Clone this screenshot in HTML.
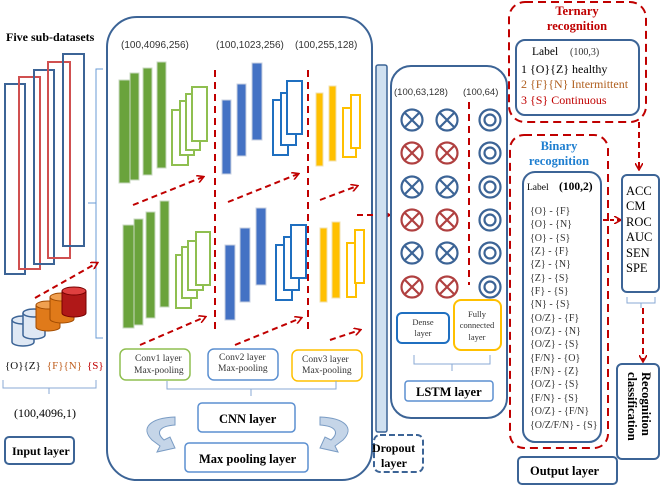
<!DOCTYPE html>
<html><head><meta charset="utf-8"><style>
body{margin:0;background:#fff}
svg{display:block;font-family:"Liberation Serif",serif}
</style></head><body>
<svg width="660" height="487" viewBox="0 0 660 487" xmlns="http://www.w3.org/2000/svg">
<defs>
<marker id="ar" markerWidth="8" markerHeight="8" refX="6" refY="4" orient="auto" markerUnits="userSpaceOnUse"><path d="M0,0 L7,4 L0,8" fill="none" stroke="#c00000" stroke-width="1.6"/></marker>
<g id="gbar"><rect x="0" y="0" width="9" height="100" fill="#6aa33c" stroke="#d0d0d0" stroke-width="1.2"/></g>
</defs>
<g fill="none" stroke-width="2">
<rect x="5" y="84" width="20" height="190" stroke="#3c6496"/>
<rect x="19" y="77" width="21" height="192" stroke="#d05050"/>
<rect x="34" y="70" width="20" height="194" stroke="#3c6496"/>
<rect x="48" y="62" width="22" height="196" stroke="#d05050"/>
<rect x="63" y="54" width="21" height="192" stroke="#3c6496"/>
</g>
<text x="6" y="41" font-size="12" font-weight="bold">Five sub-datasets</text>
<path d="M103,69 H96 V338 H103 M96,203 H88" fill="none" stroke="#6a9bd4" stroke-width="1"/>
<!-- cylinders -->
<g stroke="#3c6496" stroke-width="1.5">
<path d="M12,320 v22 a11,4 0 0 0 22,0 v-22" fill="#dfe8f4"/><ellipse cx="23" cy="320" rx="11" ry="4" fill="#dfe8f4"/>
<path d="M23,313 v22 a11,4 0 0 0 22,0 v-22" fill="#dfe8f4"/><ellipse cx="34" cy="313" rx="11" ry="4" fill="#dfe8f4"/>
</g>
<g stroke="#a04a00" stroke-width="1">
<path d="M36,305 v22 a12,4 0 0 0 24,0 v-22" fill="#e07a1a"/><ellipse cx="48" cy="305" rx="12" ry="4" fill="#f0a050"/>
<path d="M50,297 v22 a12,4 0 0 0 24,0 v-22" fill="#e07a1a"/><ellipse cx="62" cy="297" rx="12" ry="4" fill="#f0a050"/>
</g>
<path d="M62,291 v22 a12,4 0 0 0 24,0 v-22" fill="#b01818" stroke="#700"/><ellipse cx="74" cy="291" rx="12" ry="4" fill="#e04040" stroke="#700"/>
<text x="5" y="369" font-size="11"><tspan fill="#111">{O}{Z}</tspan><tspan fill="#c06020" dx="6">{F}{N}</tspan><tspan fill="#c00000" dx="5">{S}</tspan></text>
<path d="M3,380 v8 H96 v-8 M49,388 v6" fill="none" stroke="#8aaad4" stroke-width="1"/>
<text x="14" y="417" font-size="12">(100,4096,1)</text>
<rect x="5" y="437" width="69" height="27" rx="4" fill="#fff" stroke="#3c6496" stroke-width="2"/>
<text x="12" y="455" font-size="12" font-weight="bold">Input layer</text>
<line x1="35" y1="298" x2="97" y2="263" stroke="#c00000" stroke-width="2" stroke-dasharray="6,4" marker-end="url(#ar)"/>

<!-- CNN box -->
<rect x="107" y="17" width="265" height="463" rx="30" fill="none" stroke="#3c6496" stroke-width="2"/>
<g font-family="Liberation Sans,sans-serif" font-size="10" fill="#333">
<text x="121" y="48">(100,4096,256)</text>
<text x="216" y="48">(100,1023,256)</text>
<text x="295" y="48">(100,255,128)</text>
</g>
<!-- top set -->
<g fill="#6aa33c" stroke="#c8d8c0" stroke-width="1">
<rect x="119" y="80" width="11" height="103"/><rect x="130" y="73" width="9" height="107"/><rect x="143" y="68" width="9" height="107"/><rect x="157" y="62" width="9" height="106"/>
<rect x="123" y="225" width="11" height="103"/><rect x="134" y="219" width="9" height="106"/><rect x="146" y="212" width="9" height="106"/><rect x="160" y="201" width="9" height="106"/>
</g>
<g fill="#fff" stroke="#8fbf50" stroke-width="2">
<rect x="172" y="110" width="16" height="55"/><rect x="180" y="101" width="14" height="54"/><rect x="186" y="94" width="14" height="56"/><rect x="192" y="87" width="15" height="54"/>
<rect x="176" y="255" width="15" height="53"/><rect x="182" y="247" width="15" height="51"/><rect x="188" y="241" width="15" height="49"/><rect x="196" y="232" width="14" height="53"/>
</g>
<g fill="#4472c4" stroke="#c8d0e0" stroke-width="1">
<rect x="222" y="100" width="9" height="74"/><rect x="237" y="84" width="9" height="72"/><rect x="252" y="63" width="10" height="77"/>
<rect x="225" y="245" width="10" height="75"/><rect x="240" y="228" width="10" height="74"/><rect x="256" y="208" width="10" height="77"/>
</g>
<g fill="#fff" stroke="#1f6fc0" stroke-width="2">
<rect x="273" y="100" width="15" height="55"/><rect x="281" y="93" width="15" height="52"/><rect x="287" y="81" width="15" height="53"/>
<rect x="276" y="245" width="16" height="55"/><rect x="284" y="237" width="15" height="53"/><rect x="291" y="225" width="15" height="53"/>
</g>
<g fill="#ffc000" stroke="#f0e0b0" stroke-width="1">
<rect x="316" y="93" width="7" height="73"/><rect x="329" y="86" width="7" height="75"/>
<rect x="320" y="228" width="7" height="74"/><rect x="332" y="222" width="8" height="76"/>
</g>
<g fill="#fff" stroke="#ffc000" stroke-width="2">
<rect x="343" y="108" width="13" height="49"/><rect x="351" y="95" width="9" height="53"/>
<rect x="347" y="243" width="9" height="54"/><rect x="355" y="230" width="9" height="53"/>
</g>
<g stroke="#c00000" stroke-width="2" stroke-dasharray="7,5" fill="none">
<line x1="215" y1="70" x2="215" y2="330"/><line x1="308" y1="70" x2="308" y2="330"/>
<line x1="469" y1="102" x2="469" y2="285"/>
</g>
<g stroke="#c00000" stroke-width="2" stroke-dasharray="6,4" marker-end="url(#ar)">
<line x1="133" y1="205" x2="203" y2="177"/><line x1="228" y1="202" x2="298" y2="174"/><line x1="320" y1="200" x2="357" y2="186"/>
<line x1="140" y1="345" x2="205" y2="317"/><line x1="235" y1="345" x2="301" y2="318"/><line x1="330" y1="340" x2="360" y2="330"/>
<line x1="357" y1="215" x2="389" y2="215"/>
</g>
<g fill="#fff" stroke-width="1.5" font-size="9.5">
<rect x="120" y="349" width="70" height="31" rx="6" stroke="#8fbf50"/>
<rect x="208" y="349" width="70" height="31" rx="6" stroke="#5b8fd0"/>
<rect x="292" y="350" width="70" height="31" rx="6" stroke="#ffc000"/>
</g>
<g font-size="9.5" fill="#333">
<text x="135" y="361">Conv1 layer</text><text x="134" y="373">Max-pooling</text>
<text x="219" y="360">Conv2 layer</text><text x="218" y="371">Max-pooling</text>
<text x="302" y="362">Conv3 layer</text><text x="302" y="373">Max-pooling</text>
</g>
<path d="M167,381 v8 H336 v-8 M251,389 v7" fill="none" stroke="#8aaad4" stroke-width="1"/>
<rect x="198" y="403" width="97" height="29" rx="4" fill="#fff" stroke="#5b8fd0" stroke-width="1.5"/>
<text x="219" y="423" font-size="12.5" font-weight="bold">CNN layer</text>
<rect x="185" y="443" width="123" height="29" rx="4" fill="#fff" stroke="#5b8fd0" stroke-width="1.5"/>
<text x="199" y="463" font-size="12.5" font-weight="bold">Max pooling layer</text>
<path d="M175,417 C150,418 140,428 152,440 L160,446 L157,452 L175,448 L170,437 L164,440 C155,432 160,426 175,425 Z" fill="#c5d5e8" stroke="#7a9cc4"/>
<path d="M320,417 C345,418 355,428 343,440 L335,446 L338,452 L320,448 L325,437 L331,440 C340,432 335,426 320,425 Z" fill="#c5d5e8" stroke="#7a9cc4"/>

<!-- dropout -->
<rect x="376" y="65" width="11" height="367" rx="2" fill="#cfe0f0" stroke="#3c6496" stroke-width="1.5"/>
<rect x="374" y="435" width="49" height="37" rx="6" fill="#fff" stroke="#3c6496" stroke-width="2" stroke-dasharray="6,3"/>
<text x="372" y="452" font-size="12" font-weight="bold">Dropout</text>
<text x="381" y="467" font-size="12" font-weight="bold">layer</text>

<!-- LSTM -->
<rect x="391" y="66" width="116" height="352" rx="20" fill="none" stroke="#3c6496" stroke-width="2"/>
<g font-family="Liberation Sans,sans-serif" font-size="9.5" fill="#333">
<text x="394" y="95">(100,63,128)</text><text x="463" y="95">(100,64)</text>
</g>
<g stroke-width="2.2" fill="none">
<g stroke="#3c6496"><circle cx="412" cy="120" r="10.5"/><circle cx="447" cy="120" r="10.5"/><path d="M405,113 l14,14 M419,113 l-14,14 M440,113 l14,14 M454,113 l-14,14"/></g>
<g stroke="#b04040"><circle cx="412" cy="153" r="10.5"/><circle cx="447" cy="153" r="10.5"/><path d="M405,146 l14,14 M419,146 l-14,14 M440,146 l14,14 M454,146 l-14,14"/></g>
<g stroke="#3c6496"><circle cx="412" cy="187" r="10.5"/><circle cx="447" cy="187" r="10.5"/><path d="M405,180 l14,14 M419,180 l-14,14 M440,180 l14,14 M454,180 l-14,14"/></g>
<g stroke="#b04040"><circle cx="412" cy="220" r="10.5"/><circle cx="447" cy="220" r="10.5"/><path d="M405,213 l14,14 M419,213 l-14,14 M440,213 l14,14 M454,213 l-14,14"/></g>
<g stroke="#3c6496"><circle cx="412" cy="253" r="10.5"/><circle cx="447" cy="253" r="10.5"/><path d="M405,246 l14,14 M419,246 l-14,14 M440,246 l14,14 M454,246 l-14,14"/></g>
<g stroke="#b04040"><circle cx="412" cy="287" r="10.5"/><circle cx="447" cy="287" r="10.5"/><path d="M405,280 l14,14 M419,280 l-14,14 M440,280 l14,14 M454,280 l-14,14"/></g>
<g stroke="#3c6496">
<circle cx="490" cy="120" r="10.5"/><circle cx="490" cy="120" r="5.5"/>
<circle cx="490" cy="153" r="10.5"/><circle cx="490" cy="153" r="5.5"/>
<circle cx="490" cy="187" r="10.5"/><circle cx="490" cy="187" r="5.5"/>
<circle cx="490" cy="220" r="10.5"/><circle cx="490" cy="220" r="5.5"/>
<circle cx="490" cy="253" r="10.5"/><circle cx="490" cy="253" r="5.5"/>
<circle cx="490" cy="287" r="10.5"/><circle cx="490" cy="287" r="5.5"/>
</g>
</g>
<rect x="397" y="313" width="52" height="30" rx="5" fill="#fff" stroke="#1f6fc0" stroke-width="2"/>
<rect x="454" y="300" width="47" height="50" rx="7" fill="#fff" stroke="#ffc000" stroke-width="2"/>
<g font-size="8.5" fill="#333" text-anchor="middle">
<text x="423" y="325">Dense</text><text x="423" y="336">layer</text>
<text x="477" y="317">Fully</text><text x="477" y="328">connected</text><text x="477" y="340">layer</text>
</g>
<path d="M414,355 v9 H490 v-9 M452,364 v7" fill="none" stroke="#8aaad4" stroke-width="1"/>
<rect x="405" y="381" width="88" height="20" rx="3" fill="#fff" stroke="#5b8fd0" stroke-width="1.5"/>
<text x="416" y="396" font-size="12.5" font-weight="bold">LSTM layer</text>

<!-- ternary -->
<rect x="509" y="2" width="137" height="120" rx="16" fill="none" stroke="#c00000" stroke-width="2" stroke-dasharray="8,5"/>
<text x="577" y="15" font-size="12.5" font-weight="bold" fill="#c00000" text-anchor="middle">Ternary</text>
<text x="577" y="30" font-size="12.5" font-weight="bold" fill="#c00000" text-anchor="middle">recognition</text>
<rect x="516" y="40" width="123" height="75" rx="9" fill="#fff" stroke="#3c6496" stroke-width="2"/>
<text x="532" y="55" font-size="11.5">Label</text><text x="570" y="55" font-size="10" fill="#333">(100,3)</text>
<text x="521" y="73" font-size="12">1 {O}{Z} healthy</text>
<text x="521" y="88" font-size="12" fill="#b06020">2 {F}{N} Intermittent</text>
<text x="521" y="104" font-size="12" fill="#c00000">3 {S} Continuous</text>
<line x1="639" y1="122" x2="639" y2="169" stroke="#c00000" stroke-width="2" stroke-dasharray="6,4" marker-end="url(#ar)"/>

<!-- binary -->
<rect x="510" y="135" width="98" height="313" rx="14" fill="none" stroke="#c00000" stroke-width="2" stroke-dasharray="8,5"/>
<text x="559" y="150" font-size="12.5" font-weight="bold" fill="#1f7fd0" text-anchor="middle">Binary</text>
<text x="559" y="165" font-size="12.5" font-weight="bold" fill="#1f7fd0" text-anchor="middle">recognition</text>
<rect x="523" y="172" width="78" height="270" rx="12" fill="#fff" stroke="#3c6496" stroke-width="2"/>
<text x="527" y="190" font-size="9.5">Label</text><text x="559" y="190" font-size="11.5" font-weight="bold">(100,2)</text>
<g font-size="10" fill="#333">
<text x="530" y="214">{O} - {F}</text>
<text x="530" y="227">{O} - {N}</text>
<text x="530" y="241">{O} - {S}</text>
<text x="530" y="254">{Z} - {F}</text>
<text x="530" y="267">{Z} - {N}</text>
<text x="530" y="281">{Z} - {S}</text>
<text x="530" y="294">{F} - {S}</text>
<text x="530" y="307">{N} - {S}</text>
<text x="530" y="321">{O/Z} - {F}</text>
<text x="530" y="334">{O/Z} - {N}</text>
<text x="530" y="347">{O/Z} - {S}</text>
<text x="530" y="361">{F/N} - {O}</text>
<text x="530" y="374">{F/N} - {Z}</text>
<text x="530" y="387">{O/Z}  - {S}</text>
<text x="530" y="401">{F/N} - {S}</text>
<text x="530" y="414">{O/Z} - {F/N}</text>
<text x="530" y="428">{O/Z/F/N} - {S}</text>
</g>
<line x1="603" y1="220" x2="620" y2="220" stroke="#c00000" stroke-width="2" stroke-dasharray="4,3" marker-end="url(#ar)"/>
<rect x="518" y="457" width="99" height="27" rx="4" fill="#fff" stroke="#3c6496" stroke-width="2"/>
<text x="530" y="475" font-size="12.5" font-weight="bold">Output layer</text>

<!-- metrics -->
<rect x="622" y="175" width="37" height="117" rx="5" fill="#fff" stroke="#3c6496" stroke-width="2"/>
<g font-size="12.5">
<text x="626" y="195">ACC</text><text x="626" y="210">CM</text><text x="626" y="226">ROC</text>
<text x="626" y="241">AUC</text><text x="626" y="257">SEN</text><text x="626" y="272">SPE</text>
</g>
<path d="M627,297 v6 H655 v-6 M641,303 v5" fill="none" stroke="#8aaad4" stroke-width="1"/>
<line x1="643" y1="308" x2="643" y2="361" stroke="#c00000" stroke-width="2" stroke-dasharray="6,4" marker-end="url(#ar)"/>
<rect x="617" y="364" width="42" height="95" rx="5" fill="#fff" stroke="#3c6496" stroke-width="2"/>
<text transform="translate(642,372) rotate(90)" font-size="12.5" font-weight="bold">Recognition</text>
<text transform="translate(628,372) rotate(90)" font-size="12.5" font-weight="bold">classification</text>
</svg>
</body></html>
